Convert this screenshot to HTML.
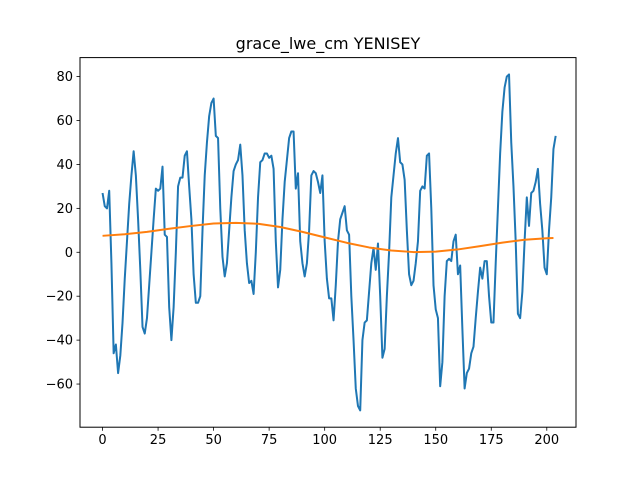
<!DOCTYPE html>
<html><head><meta charset="utf-8"><style>
body{margin:0;background:#fff;font-family:"DejaVu Sans","Liberation Sans",sans-serif;}
svg text{font-family:"DejaVu Sans","Liberation Sans",sans-serif;}
</style></head><body>
<svg id="chart" width="640" height="480" xmlns="http://www.w3.org/2000/svg">
<rect width="640" height="480" fill="#fff"/>
<text x="328" y="49" text-anchor="middle" font-size="16">grace_lwe_cm YENISEY</text>
<g id="plot"></g>
<rect x="80" y="57.6" width="496" height="369.6" fill="none" stroke="#000" stroke-width="1"/>
</svg>
<script>
const blueValues=[27,21,20,28,-5,-46,-42,-55,-47,-32,-12,5,22,35,46,35,15,-8,-34,-37,-30,-15,0,15,29,28,29,39,8,7,-25,-40,-25,0,30,34,34,44,46,30,15,-10,-23,-23,-20,10,35,50,62,68,70,53,52,20,-2,-11,-5,10,25,37,40,42,49,35,10,-5,-14,-13,-19,0,25,41,42,45,45,43,44,38,5,-16,-8,15,32,42,52,55,55,29,36,5,-5,-11,-5,10,35,37,36,32,27,35,5,-12,-21,-21,-31,-15,5,15,18,21,10,8,-20,-40,-62,-70,-72,-40,-32,-31,-18,-5,2,-8,4,-20,-48,-44,-20,0,25,35,45,52,41,40,33,10,-10,-15,-13,-5,5,28,30,29,44,45,20,-15,-26,-30,-61,-50,-20,-4,-3,-4,5,8,-10,-6,-35,-62,-55,-53,-46,-43,-30,-18,-7,-12,-4,-4,-20,-32,-32,-5,20,45,64,75,80,81,50,30,5,-28,-30,-18,5,25,12,27,28,32,38,22,10,-7,-10,10,25,47,53];
const orangeX=[0,10,20,30,40,50,60,70,80,90,100,110,120,130,140,150,160,170,180,190,200,203];
const orangeValues=[7.5,8.2,9.3,10.7,12,13.1,13.4,13,11.5,9.3,6.8,4.3,2.2,0.8,0.1,0.3,1.3,2.8,4.4,5.7,6.4,6.5];
const xTicks=[0,25,50,75,100,125,150,175,200];
const yTicks=[-60,-40,-20,0,20,40,60,80];
const L=80,R=576,T=57.6,B=427.2;
const xmin=-10.15,xmax=213.15,ymin=-79.65,ymax=88.65;
function sx(v){return L+(v-xmin)/(xmax-xmin)*(R-L);}
function sy(v){return B-(v-ymin)/(ymax-ymin)*(B-T);}
const NS="http://www.w3.org/2000/svg";
const g=document.getElementById('plot');
function mk(t,a){const e=document.createElementNS(NS,t);for(const k in a)e.setAttribute(k,a[k]);g.appendChild(e);return e;}
xTicks.forEach(v=>{
  const l=mk('line',{x1:sx(v),x2:sx(v),y1:B,y2:B+3.5,stroke:'#000','stroke-width':0.8});
  
  
  const t=mk('text',{x:sx(v),y:B+17,'text-anchor':'middle','font-size':13});
  t.textContent=v;
  
  
});
yTicks.forEach(v=>{
  const l=mk('line',{x1:L-3.5,x2:L,y1:sy(v),y2:sy(v),stroke:'#000','stroke-width':0.8});
  
  
  const t=mk('text',{x:L-7,y:sy(v)+4.5,'text-anchor':'end','font-size':13});
  t.textContent=String(v).replace('-','\u2212');
  
  
});
const bp=mk('polyline',{points:blueValues.map((v,i)=>sx(i)+','+sy(v)).join(' '),fill:'none',stroke:'#1f77b4','stroke-width':2,'stroke-linejoin':'round'});


const op=mk('polyline',{points:orangeValues.map((v,i)=>sx(orangeX[i])+','+sy(v)).join(' '),fill:'none',stroke:'#ff7f0e','stroke-width':2,'stroke-linejoin':'round'});


</script>
</body></html>
